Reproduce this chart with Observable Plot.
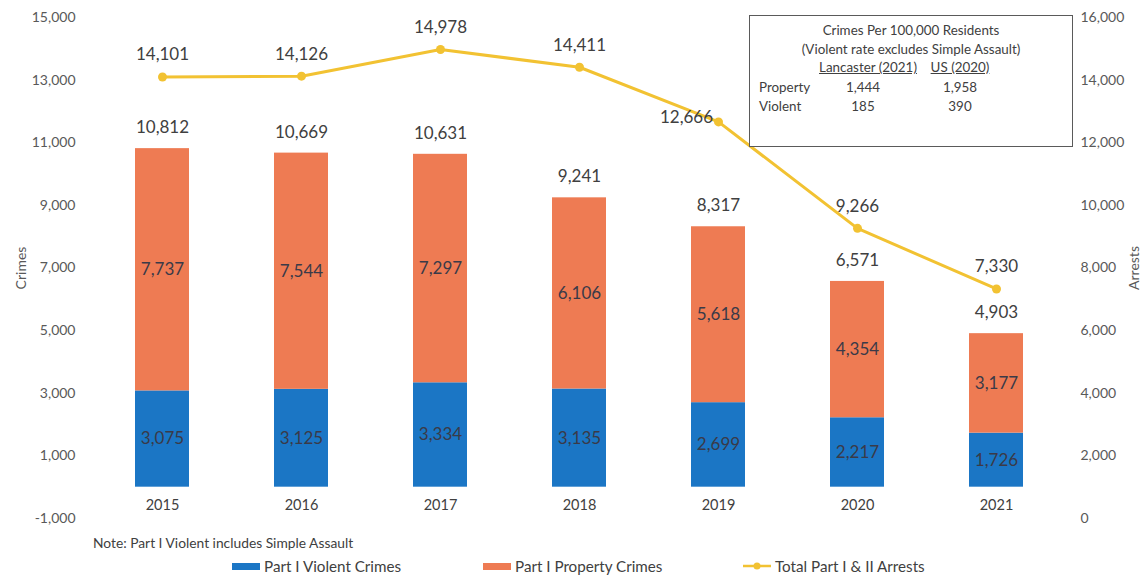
<!DOCTYPE html>
<html><head><meta charset="utf-8">
<script src="https://cdn.jsdelivr.net/npm/d3@7"></script>
<script src="https://cdn.jsdelivr.net/npm/@observablehq/plot@0.6"></script>
<style>
body{margin:0;background:#fff;font-family:Lato,"Open Sans",sans-serif;color:#404040;}
#wrap{position:relative;width:1147px;height:577px;overflow:hidden;}
#box{position:absolute;left:749px;top:15px;width:322px;height:130px;border:1px solid #5a5a5a;font-size:13.4px;color:#404040;background:#fff;}
#box .c{position:absolute;left:0;width:100%;text-align:center;}
#box .cell{position:absolute;white-space:nowrap;}
#note{position:absolute;left:93px;top:534px;font-size:13.8px;color:#404040;}
.leg{position:absolute;top:557px;font-size:15.2px;color:#404040;white-space:nowrap;display:flex;align-items:center;}
.sw{display:inline-block;width:28px;height:7px;margin-right:4px;}
</style></head><body>
<div id="wrap"><div id="chart"></div><div id="box"></div><div id="note"></div><div id="legend"></div></div>
<script>
const years = ["2015","2016","2017","2018","2019","2020","2021"];
const violent = [3075,3125,3334,3135,2699,2217,1726];
const property = [7737,7544,7297,6106,5618,4354,3177];
const totals = [10812,10669,10631,9241,8317,6571,4903];
const arrests = [14101,14126,14978,14411,12666,9266,7330];
const arrestLabelSide = ["top","top","top","top","left","top","top"];
const crimeTicks = [-1000,1000,3000,5000,7000,9000,11000,13000,15000];
const arrestTicks = [0,2000,4000,6000,8000,10000,12000,14000,16000];
const seriesNames = ["Part I Violent Crimes","Part I Property Crimes","Total Part I & II Arrests"];
const colors = ["#1b76c5","#ee7b53","#f2c232"];
const boxTitle = ["Crimes Per 100,000 Residents","(Violent rate excludes Simple Assault)"];
const boxHeaders = ["Lancaster (2021)","US (2020)"];
const boxRowLabels = ["Property","Violent"];
const boxLancaster = [1444,185];
const boxUS = [1958,390];
const noteText = "Note: Part I Violent includes Simple Assault";

const fmt = d3.format(",");
const fmtSigned = d => (d < 0 ? "-" : "") + fmt(Math.abs(d));
// map arrests axis onto crimes axis (both span the same pixel range)
const offset = arrestTicks[0] - crimeTicks[0];

const rows = [
  ...years.map((y,i)=>({year:y,type:"violent",value:violent[i]})),
  ...years.map((y,i)=>({year:y,type:"property",value:property[i]}))
];
const totalRows = years.map((y,i)=>({year:y,total:totals[i]}));
const arrestRows = years.map((y,i)=>({year:y,arrests:arrests[i],side:arrestLabelSide[i]}));
const ay = d => d.arrests - offset;

const chart = Plot.plot({
  width:1147, height:530,
  marginTop:17, marginBottom:12, marginLeft:92, marginRight:81,
  style:{fontFamily:"Lato, 'Open Sans', sans-serif", fontSize:"14px", color:"#595959", background:"transparent", overflow:"visible"},
  x:{domain:years, paddingInner:0.61, paddingOuter:0.305, axis:null},
  y:{domain:[crimeTicks[0], crimeTicks[crimeTicks.length-1]], axis:null},
  color:{domain:["violent","property"], range:[colors[0],colors[1]]},
  marks:[
    Plot.axisY({ticks:crimeTicks, tickSize:0, tickPadding:17, tickFormat:fmtSigned, label:"Crimes", labelArrow:false, labelAnchor:"center", labelOffset:76, fontSize:14, fill:"#595959"}),
    Plot.axisY({anchor:"right", ticks:arrestTicks.map(t=>t-offset), tickSize:0, tickPadding:14, tickFormat:d=>fmt(d+offset), label:"Arrests", labelArrow:false, labelAnchor:"center", labelOffset:72, fontSize:14, fill:"#595959"}),
    Plot.axisX({tickSize:0, tickPadding:3, dy:-22, label:null, fontSize:14.5, fill:"#404040"}),
    Plot.barY(rows, {x:"year", y:"value", fill:"type"}),
    Plot.text(rows, Plot.stackY({x:"year", y:"value", text:d=>fmt(d.value), fill:"#3a3a48", fontSize:17})),
    Plot.text(totalRows, {x:"year", y:"total", text:d=>fmt(d.total), dy:-21, fill:"#404040", fontSize:17}),
    Plot.line(arrestRows, {x:"year", y:ay, stroke:colors[2], strokeWidth:3}),
    Plot.dot(arrestRows, {x:"year", y:ay, r:4.5, fill:colors[2]}),
    Plot.text(arrestRows.filter(d=>d.side==="top"), {x:"year", y:ay, text:d=>fmt(d.arrests), dy:-22, fill:"#404040", fontSize:17}),
    Plot.text(arrestRows.filter(d=>d.side==="left"), {x:"year", y:ay, text:d=>fmt(d.arrests), dx:-32, dy:-4, fill:"#404040", fontSize:17})
  ]
});
document.getElementById("chart").appendChild(chart);

// annotation box
const box = document.getElementById("box");
const lineTop = [6,25,43,63,82];
boxTitle.forEach((t,i)=>{const e=document.createElement("div");e.className="c";e.style.top=lineTop[i]+"px";e.textContent=t;box.appendChild(e);});
const colCenter = [null,118,210];
function cell(text, top, center, left, underline){
  const e=document.createElement("div");e.className="cell";e.textContent=text;e.style.top=top+"px";
  if(left!=null){e.style.left=left+"px";}else{e.style.left=center+"px";e.style.transform="translateX(-50%)";}
  if(underline){e.style.textDecoration="underline";}
  box.appendChild(e);
}
cell(boxHeaders[0], lineTop[2], colCenter[1], null, true);
cell(boxHeaders[1], lineTop[2], colCenter[2], null, true);
boxRowLabels.forEach((r,i)=>{
  cell(r, lineTop[3+i], null, 9);
  cell(fmt(boxLancaster[i]), lineTop[3+i], colCenter[1]-5);
  cell(fmt(boxUS[i]), lineTop[3+i], colCenter[2]);
});

document.getElementById("note").textContent = noteText;

// legend
const legend = document.getElementById("legend");
const legLeft = [232,483,743];
seriesNames.forEach((n,i)=>{
  const item=document.createElement("div");item.className="leg";item.style.left=legLeft[i]+"px";
  if(i<2){
    const sw=document.createElement("span");sw.className="sw";sw.style.background=colors[i];item.appendChild(sw);
  } else {
    const svg=d3.create("svg").attr("width",30).attr("height",10).style("margin-right",2);
    svg.append("line").attr("x1",0).attr("x2",28).attr("y1",5).attr("y2",5).attr("stroke",colors[2]).attr("stroke-width",2.5);
    svg.append("circle").attr("cx",14).attr("cy",5).attr("r",3.5).attr("fill",colors[2]);
    item.appendChild(svg.node());
  }
  const t=document.createElement("span");t.textContent=n;item.appendChild(t);
  legend.appendChild(item);
});
</script>
</body></html>
